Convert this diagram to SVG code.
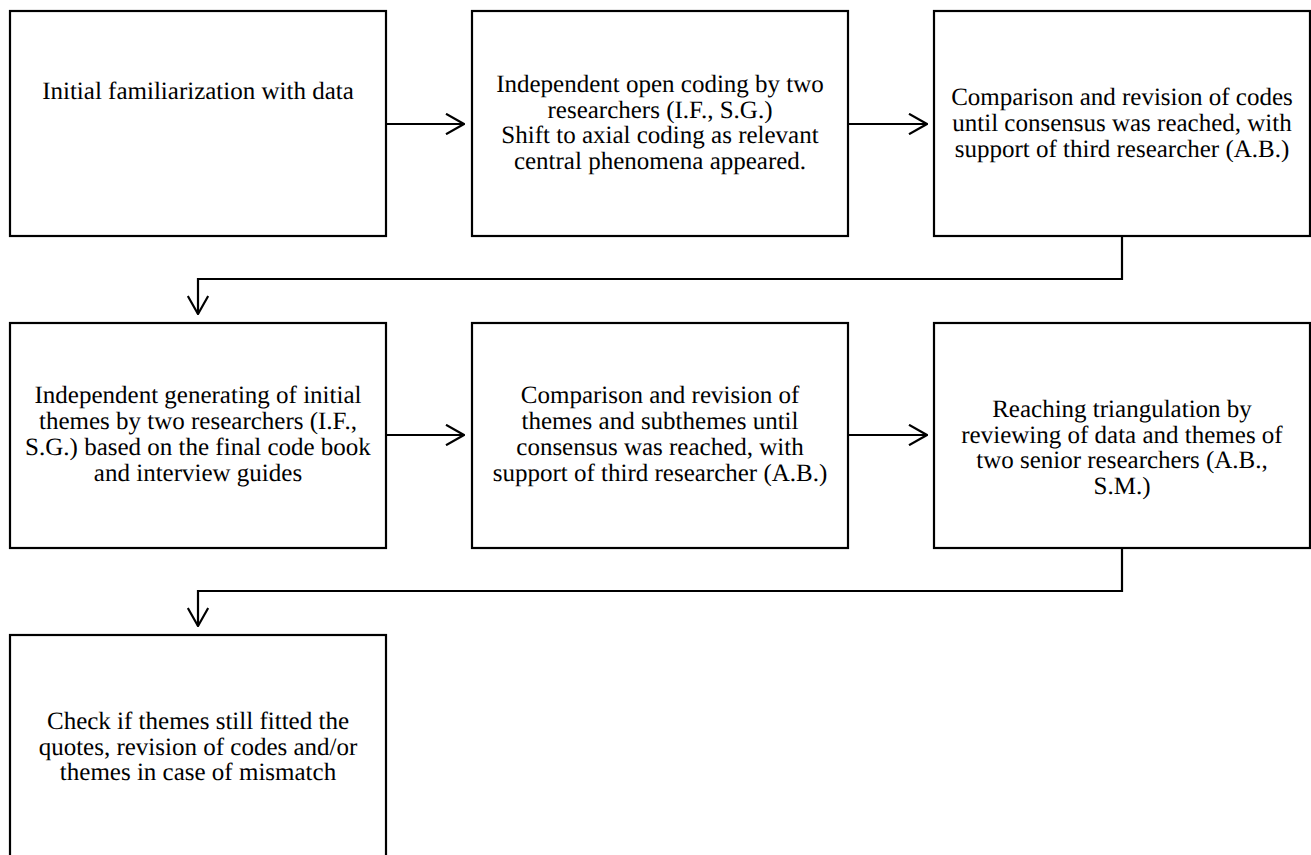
<svg xmlns="http://www.w3.org/2000/svg" width="1311" height="855" viewBox="0 0 1311 855">
<style>
.box{fill:#fff;stroke:#000;stroke-width:2.2}
.t{font-family:"Liberation Serif","Times New Roman",serif;font-size:25px;fill:#000;text-anchor:middle;text-rendering:geometricPrecision}
.c{fill:none;stroke:#000;stroke-width:2.2}
</style>
<defs>
<marker id="arr" viewBox="0 0 20 22" refX="19" refY="11" markerWidth="20" markerHeight="22" markerUnits="userSpaceOnUse" orient="auto">
<path d="M1,0.8 L19,11 L1,21.2" fill="none" stroke="#000" stroke-width="2.2"/>
</marker>
</defs>
<rect width="1311" height="855" fill="#fff"/>
<g id="n1"><rect class="box" x="10" y="11" width="376" height="225"/>
<text class="t" x="198" y="99">Initial familiarization with data</text></g>
<g id="n2"><rect class="box" x="472" y="11" width="376" height="225"/>
<text class="t" x="660" y="92">Independent open coding by two</text>
<text class="t" x="660" y="118">researchers (I.F., S.G.)</text>
<text class="t" x="660" y="143">Shift to axial coding as relevant</text>
<text class="t" x="660" y="169">central phenomena appeared.</text></g>
<g id="n3"><rect class="box" x="934" y="11" width="376" height="225"/>
<text class="t" x="1122" y="105">Comparison and revision of codes</text>
<text class="t" x="1122" y="131">until consensus was reached, with</text>
<text class="t" x="1122" y="157">support of third researcher (A.B.)</text></g>
<g id="n4"><rect class="box" x="10" y="323" width="376" height="225"/>
<text class="t" x="198" y="403">Independent generating of initial</text>
<text class="t" x="198" y="429">themes by two researchers (I.F.,</text>
<text class="t" x="198" y="455">S.G.) based on the final code book</text>
<text class="t" x="198" y="481">and interview guides</text></g>
<g id="n5"><rect class="box" x="472" y="323" width="376" height="225"/>
<text class="t" x="660" y="403">Comparison and revision of</text>
<text class="t" x="660" y="429">themes and subthemes until</text>
<text class="t" x="660" y="455">consensus was reached, with</text>
<text class="t" x="660" y="481">support of third researcher (A.B.)</text></g>
<g id="n6"><rect class="box" x="934" y="323" width="376" height="225"/>
<text class="t" x="1122" y="417">Reaching triangulation by</text>
<text class="t" x="1122" y="443">reviewing of data and themes of</text>
<text class="t" x="1122" y="468">two senior researchers (A.B.,</text>
<text class="t" x="1122" y="494">S.M.)</text></g>
<g id="n7"><rect class="box" x="10" y="635" width="376" height="225"/>
<text class="t" x="198" y="729">Check if themes still fitted the</text>
<text class="t" x="198" y="755">quotes, revision of codes and/or</text>
<text class="t" x="198" y="780">themes in case of mismatch</text></g>
<g id="connectors">
<path class="c" d="M386,124 H464" marker-end="url(#arr)"/>
<path class="c" d="M848,124 H927" marker-end="url(#arr)"/>
<path class="c" d="M386,435 H464" marker-end="url(#arr)"/>
<path class="c" d="M848,435 H927" marker-end="url(#arr)"/>
<path class="c" d="M1122,236 V279 H198 V314" marker-end="url(#arr)"/>
<path class="c" d="M1122,548 V591 H198 V626" marker-end="url(#arr)"/>
</g>
</svg>
